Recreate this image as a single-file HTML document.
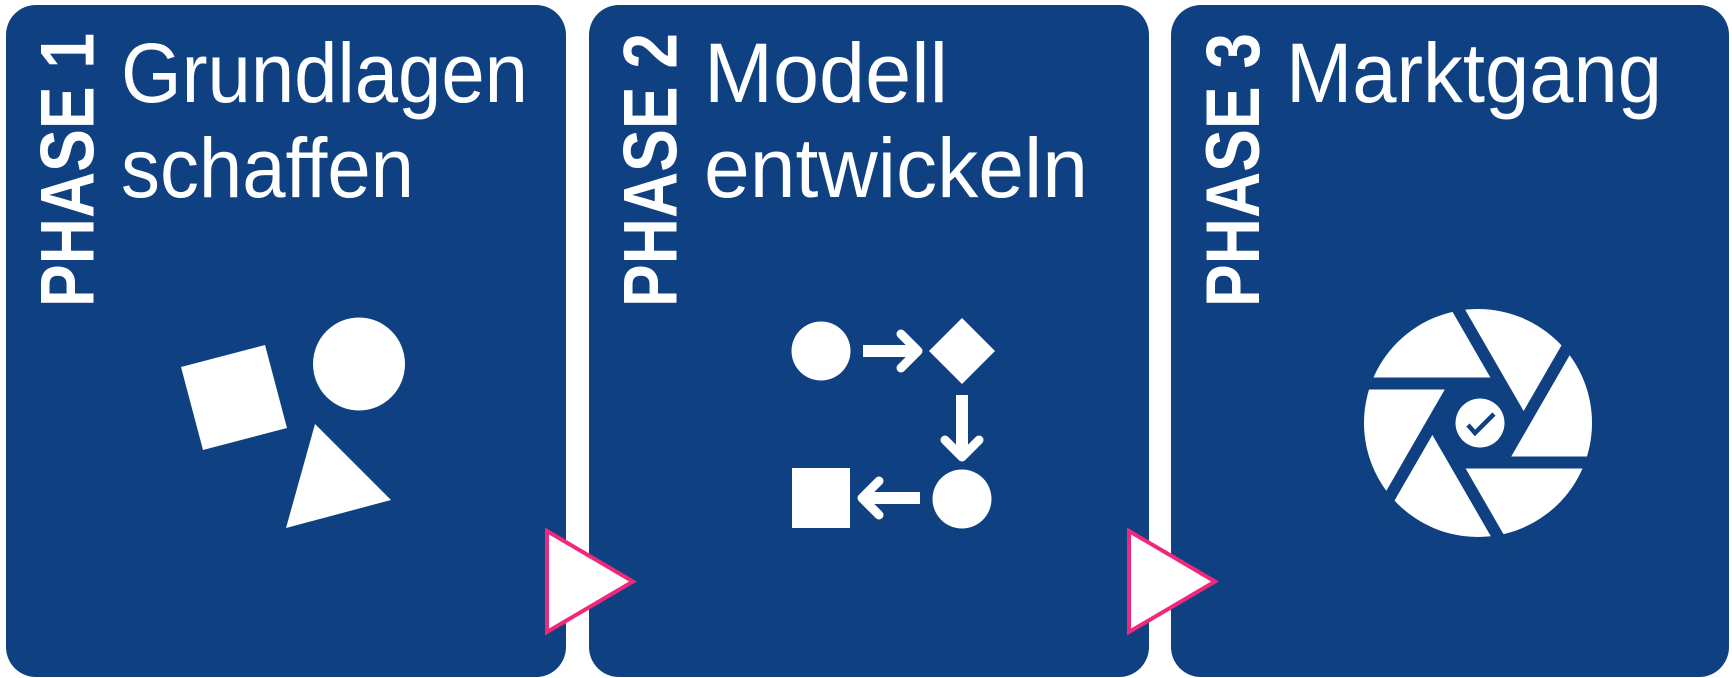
<!DOCTYPE html>
<html><head><meta charset="utf-8"><style>
html,body{margin:0;padding:0;background:#fff;}
svg{display:block;}
text{font-family:"Liberation Sans",sans-serif;fill:#fff;}
</style></head><body>
<svg width="1732" height="678" viewBox="0 0 1732 678" xmlns="http://www.w3.org/2000/svg">
<rect x="0" y="0" width="1732" height="678" fill="#fff"/>
<g fill="#0f4081">
<rect x="6" y="5" width="560" height="672" rx="30"/>
<rect x="589" y="5" width="560" height="672" rx="30"/>
<rect x="1171" y="5" width="558" height="672" rx="30"/>
</g>
<g font-weight="bold" font-size="76">
<text transform="translate(93.6,307) rotate(-90)" textLength="274" lengthAdjust="spacingAndGlyphs">PHASE 1</text>
<text transform="translate(676.6,307) rotate(-90)" textLength="274" lengthAdjust="spacingAndGlyphs">PHASE 2</text>
<text transform="translate(1259,307) rotate(-90)" textLength="274" lengthAdjust="spacingAndGlyphs">PHASE 3</text>
</g>
<g font-size="84">
<text x="121" y="102" textLength="407" lengthAdjust="spacingAndGlyphs">Grundlagen</text>
<text x="121" y="197" textLength="293" lengthAdjust="spacingAndGlyphs">schaffen</text>
<text x="704" y="102" textLength="244" lengthAdjust="spacingAndGlyphs">Modell</text>
<text x="704" y="197" textLength="384" lengthAdjust="spacingAndGlyphs">entwickeln</text>
<text x="1286" y="102" textLength="376" lengthAdjust="spacingAndGlyphs">Marktgang</text>
</g>
<g fill="#fff">
<polygon points="181,367 265,345 287,428 203,450"/>
<ellipse cx="359" cy="364" rx="46" ry="46.5"/>
<polygon points="315,424 391,500 286,528"/>
</g>
<g fill="#fff">
<circle cx="821" cy="351" r="29.5"/>
<polygon points="962,318 995,351 962,384 929,351"/>
<circle cx="962" cy="499" r="29.5"/>
<rect x="792" y="468" width="58" height="60"/>
</g>
<g stroke="#fff" fill="none">
<line x1="863" y1="351" x2="918" y2="351" stroke-width="12"/>
<polyline points="901,334 918,351 901,368" stroke-width="9" stroke-linecap="round" stroke-linejoin="round"/>
<line x1="962" y1="395" x2="962" y2="457" stroke-width="12"/>
<polyline points="945,440 962,457 979,440" stroke-width="9" stroke-linecap="round" stroke-linejoin="round"/>
<line x1="920" y1="498" x2="862" y2="498" stroke-width="12"/>
<polyline points="879,481 862,498 879,515" stroke-width="9" stroke-linecap="round" stroke-linejoin="round"/>
</g>
<g transform="translate(1478,423)">
<circle r="114" fill="#fff"/>
<polygon points="48,0 24,41.6 -24,41.6 -48,0 -24,-41.6 24,-41.6" fill="#0f4081"/>
<g stroke="#0f4081" stroke-width="12">
<line x1="20" y1="-39.5" x2="-130" y2="-39.5" transform="rotate(0)"/>
<line x1="20" y1="-39.5" x2="-130" y2="-39.5" transform="rotate(60)"/>
<line x1="20" y1="-39.5" x2="-130" y2="-39.5" transform="rotate(120)"/>
<line x1="20" y1="-39.5" x2="-130" y2="-39.5" transform="rotate(180)"/>
<line x1="20" y1="-39.5" x2="-130" y2="-39.5" transform="rotate(240)"/>
<line x1="20" y1="-39.5" x2="-130" y2="-39.5" transform="rotate(300)"/>
</g>
<circle cx="2" cy="0" r="24.5" fill="#fff"/>
<polyline points="-10,2 -3,10 16,-9" fill="none" stroke="#0f4081" stroke-width="4.5"/>
</g>
<g fill="#fff" stroke="#f0287a" stroke-width="4">
<polygon points="547,531 633,581.5 547,632"/>
<polygon points="1129,531 1215,581.5 1129,632"/>
</g>
</svg>
</body></html>
